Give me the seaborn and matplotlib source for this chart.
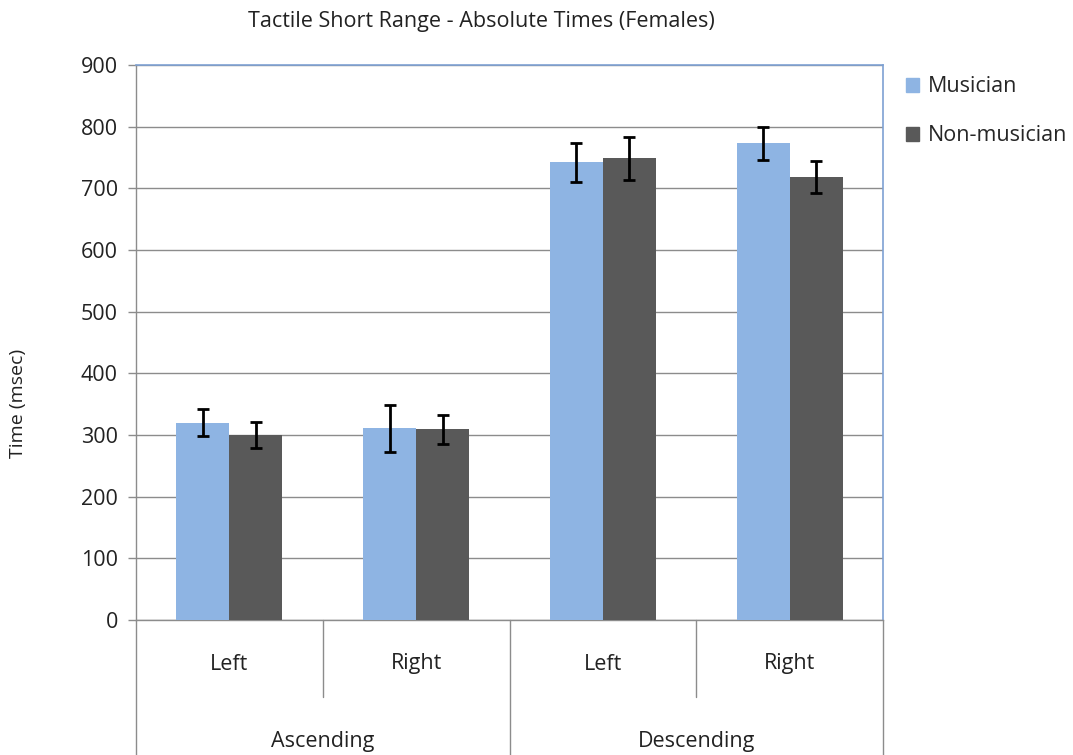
import matplotlib
matplotlib.use("Agg")
import matplotlib.pyplot as plt
import matplotlib.patches as mpatches
import seaborn as sns
import pandas as pd
import numpy as np

# ---- data ----
directions = ["Ascending", "Ascending", "Descending", "Descending"]
sides = ["Left", "Right", "Left", "Right"]
groups = ["Musician", "Non-musician"]
musician = [320, 311, 742, 773]
non_musician = [300, 309, 749, 718]
musician_err = [22, 38, 32, 27]
non_musician_err = [21, 23, 35, 26]
title = "Tactile Short Range - Absolute Times (Females)"
ylabel = "Time (msec)"
colors = ["#8EB4E3", "#595959"]

sns.set_theme(style="white")
plt.rcParams["font.family"] = ["Open Sans", "DejaVu Sans"]

cats = [f"{d}-{s}" for d, s in zip(directions, sides)]
df = pd.DataFrame({
    "cat": cats * 2,
    "group": [groups[0]] * 4 + [groups[1]] * 4,
    "value": musician + non_musician,
})
errs = [musician_err, non_musician_err]

fig = plt.figure(figsize=(10.73, 7.55), dpi=100)
W, H = 1073, 755
left, right, top, bottom = 136, 883, 65, 620
ax = fig.add_axes([left / W, 1 - bottom / H, (right - left) / W, (bottom - top) / H])

sns.barplot(data=df, x="cat", y="value", hue="group", order=cats,
            hue_order=groups, palette=colors, width=0.567, saturation=1,
            errorbar=None, legend=False, ax=ax, zorder=3, linewidth=0)

for cont, err in zip(ax.containers, errs):
    xs = [b.get_x() + b.get_width() / 2 for b in cont]
    hs = [b.get_height() for b in cont]
    ax.errorbar(xs, hs, yerr=err, fmt="none", ecolor="black", elinewidth=2,
                capsize=4.2, capthick=2, zorder=4)

ax.set_ylim(0, 900)
ax.set_yticks(np.arange(0, 901, 100))
ax.set_xlim(-0.5, 3.5)
ax.yaxis.grid(True, color="#8C8C8C", linewidth=1, zorder=0)
ax.set_axisbelow(True)
ax.tick_params(axis="y", which="major", direction="out", length=6, width=1,
               color="#8C8C8C", labelsize=15.5, pad=7, left=True)
ax.tick_params(axis="x", length=0, labelbottom=False)
ax.set_xlabel("")
ax.set_ylabel("")
for lab in ax.get_yticklabels():
    lab.set_color("#222222")

fig.text(18 / W, 1 - 403 / H, ylabel, fontsize=14, rotation=90, ha="center",
         va="center", color="#222222")

for s in ["left", "bottom"]:
    ax.spines[s].set_color("#8C8C8C")
    ax.spines[s].set_linewidth(1)
for s in ["top", "right"]:
    ax.spines[s].set_color("#7EA1D3")
    ax.spines[s].set_linewidth(1.2)

fig.text(481 / W, 1 - 22 / H, title, fontsize=15.5, ha="center", va="center",
         color="#222222")

# hierarchical category axis
tr = ax.get_xaxis_transform()
ax_h = bottom - top
sub_y = -(697 - bottom) / ax_h
maj_y = -(760 - bottom) / ax_h
for x in [-0.5, 1.5, 3.5]:
    ax.plot([x, x], [0, maj_y], transform=tr, color="#8C8C8C", lw=1, clip_on=False)
for x in [0.5, 2.5]:
    ax.plot([x, x], [0, sub_y], transform=tr, color="#8C8C8C", lw=1, clip_on=False)
for i, s in enumerate(sides):
    ax.text(i, -(664 - bottom) / ax_h, s, transform=tr, ha="center", va="center",
            fontsize=15.5, color="#222222")
uniq = []
for d in directions:
    if d not in uniq:
        uniq.append(d)
for d in uniq:
    idx = [i for i, dd in enumerate(directions) if dd == d]
    ax.text(np.mean(idx), -(741 - bottom) / ax_h, d, transform=tr, ha="center",
            va="center", fontsize=15.5, color="#222222")

handles = [mpatches.Patch(color=c, label=g) for c, g in zip(colors, groups)]
fig.legend(handles=handles, loc="upper left", bbox_to_anchor=(887 / W, 1 - 57 / H),
           frameon=False, fontsize=15.5, handlelength=0.6, handleheight=0.6,
           handletextpad=0.4, labelspacing=1.3)

fig.savefig("out.png", dpi=100)
